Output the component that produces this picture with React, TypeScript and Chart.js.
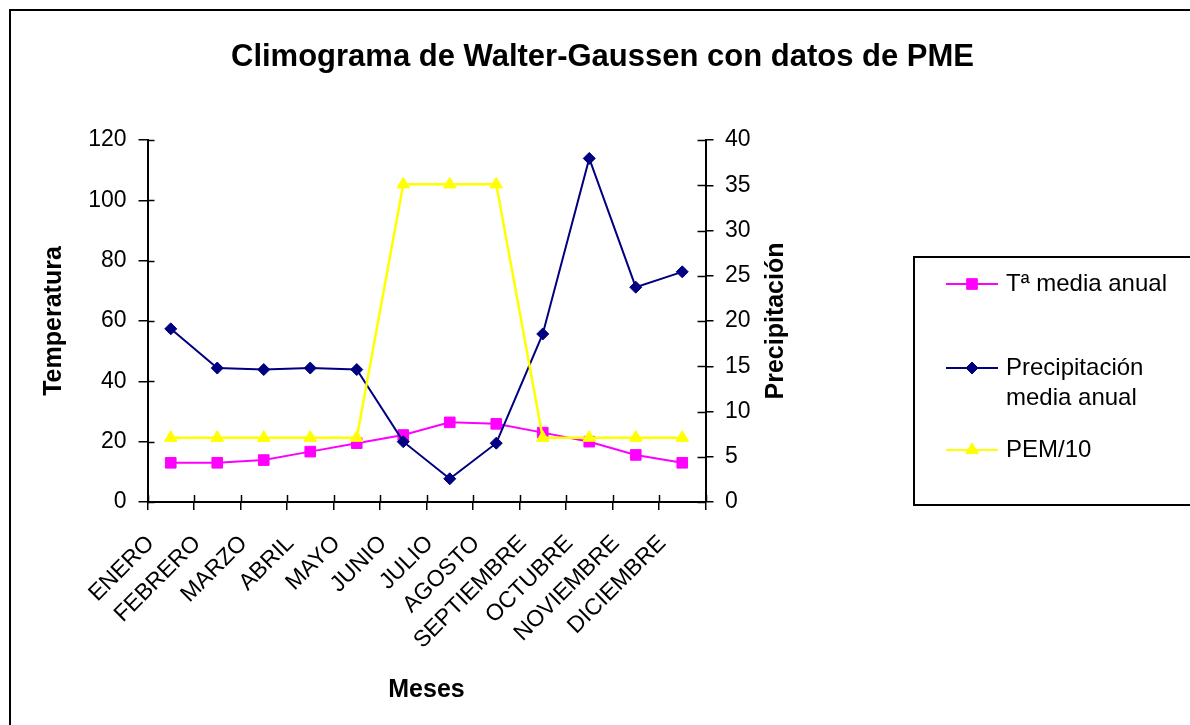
import React, { useEffect, useRef } from "react";
import { Chart, registerables } from "chart.js";

Chart.register(...registerables);

const chartTitle = "Climograma de Walter-Gaussen con datos de PME";
const xTitle = "Meses";
const yTitle = "Temperatura";
const y1Title = "Precipitación";

const months = [
  "ENERO", "FEBRERO", "MARZO", "ABRIL", "MAYO", "JUNIO",
  "JULIO", "AGOSTO", "SEPTIEMBRE", "OCTUBRE", "NOVIEMBRE", "DICIEMBRE",
];

const tempMedia = [13.0, 13.0, 13.9, 16.7, 19.5, 22.2, 26.4, 25.9, 23.0, 20.0, 15.6, 13.0];
const precipMedia = [57.4, 44.4, 43.9, 44.4, 43.9, 20.0, 7.7, 19.5, 55.7, 113.9, 71.2, 76.3];
const pem10 = [7.1, 7.1, 7.1, 7.1, 7.1, 35.1, 35.1, 35.1, 7.1, 7.1, 7.1, 7.1];

const leftMin = 0, leftMax = 120, leftStep = 20;
const rightMin = 0, rightMax = 40, rightStep = 5;

const seriesLabels = ["Tª media anual", "Precipitación media anual", "PEM/10"];
const legendLines = [["Tª media anual"], ["Precipitación", "media anual"], ["PEM/10"]];
const seriesColors = ["#FF00FF", "#000080", "#FFFF00"];
const seriesStyles = ["rect", "rectRot", "triangle"];

const FONT = "'Liberation Sans', Arial, Helvetica, sans-serif";

function drawMarker(ctx: CanvasRenderingContext2D, style: string, x: number, y: number, color: string) {
  ctx.save();
  ctx.fillStyle = color;
  ctx.strokeStyle = color;
  ctx.lineWidth = 1;
  ctx.beginPath();
  if (style === "rect") {
    ctx.rect(x - 5.3, y - 5.3, 10.6, 10.6);
  } else if (style === "rectRot") {
    const r = 6;
    ctx.moveTo(x - r, y);
    ctx.lineTo(x, y - r);
    ctx.lineTo(x + r, y);
    ctx.lineTo(x, y + r);
    ctx.closePath();
  } else {
    const r = 7.2;
    ctx.moveTo(x, y - r);
    ctx.lineTo(x + r * 0.866, y + r * 0.5);
    ctx.lineTo(x - r * 0.866, y + r * 0.5);
    ctx.closePath();
  }
  ctx.fill();
  ctx.stroke();
  ctx.restore();
}

export default function App() {
  const ref = useRef<HTMLCanvasElement>(null);

  useEffect(() => {
    const canvas = ref.current;
    if (!canvas) return;
    Chart.defaults.font.family = FONT;
    Chart.defaults.color = "#000";

    const decor = {
      id: "decor",
      beforeDraw(chart: any) {
        const { ctx, width, height } = chart;
        ctx.save();
        ctx.fillStyle = "#fff";
        ctx.fillRect(0, 0, width, height);
        ctx.strokeStyle = "#000";
        ctx.lineWidth = 2;
        ctx.strokeRect(10, 10, width + 40, height + 40);
        ctx.fillStyle = "#000";
        ctx.font = `bold 31px ${FONT}`;
        ctx.textAlign = "center";
        ctx.textBaseline = "middle";
        ctx.fillText(chartTitle, 602.5, 57);
        ctx.restore();
      },
      afterDraw(chart: any) {
        const { ctx, chartArea: ca, scales } = chart;
        ctx.save();
        ctx.strokeStyle = "#000";
        ctx.lineWidth = 1.5;
        // inner halves of the crossing tick marks
        const xs = scales.x;
        for (let i = 0; i <= months.length; i++) {
          const px = Math.round(xs.getPixelForValue(i - 0.5)) + 0.5;
          ctx.beginPath();
          ctx.moveTo(px, ca.bottom);
          ctx.lineTo(px, ca.bottom - 7);
          ctx.stroke();
        }
        scales.y.ticks.forEach((t: any) => {
          const py = Math.round(scales.y.getPixelForValue(t.value)) + 0.5;
          ctx.beginPath();
          ctx.moveTo(ca.left, py);
          ctx.lineTo(ca.left + 7, py);
          ctx.stroke();
        });
        scales.y1.ticks.forEach((t: any) => {
          const py = Math.round(scales.y1.getPixelForValue(t.value)) + 0.5;
          ctx.beginPath();
          ctx.moveTo(ca.right, py);
          ctx.lineTo(ca.right - 8, py);
          ctx.stroke();
        });

        // right axis title, reading bottom-to-top
        ctx.save();
        ctx.fillStyle = "#000";
        ctx.font = `bold 25px ${FONT}`;
        ctx.textAlign = "center";
        ctx.textBaseline = "middle";
        ctx.translate(776, (ca.top + ca.bottom) / 2);
        ctx.rotate(-Math.PI / 2);
        ctx.fillText(y1Title, 0, 0);
        ctx.restore();

        // legend
        ctx.lineWidth = 2;
        ctx.strokeStyle = "#000";
        ctx.strokeRect(914, 257, 320, 248);
        const rowsY = [284, 368, 450];
        ctx.font = `24px ${FONT}`;
        ctx.textAlign = "left";
        ctx.textBaseline = "middle";
        legendLines.forEach((lines, i) => {
          const y = rowsY[i];
          ctx.strokeStyle = seriesColors[i];
          ctx.lineWidth = 2;
          ctx.beginPath();
          ctx.moveTo(946, y);
          ctx.lineTo(998, y);
          ctx.stroke();
          drawMarker(ctx, seriesStyles[i], 972, y, seriesColors[i]);
          ctx.fillStyle = "#000";
          lines.forEach((ln, j) => ctx.fillText(ln, 1006, y + j * 30));
        });
        ctx.restore();
      },
    };

    const tickFont = { size: 23 };
    const titleFont = { size: 25, weight: "bold" as const };

    const chart = new Chart(canvas, {
      type: "line",
      data: {
        labels: months,
        datasets: [
          {
            label: seriesLabels[0],
            data: tempMedia,
            yAxisID: "y",
            borderColor: seriesColors[0],
            backgroundColor: seriesColors[0],
            pointBackgroundColor: seriesColors[0],
            pointBorderColor: seriesColors[0],
            pointStyle: "rect",
            pointRadius: 7.5,
            pointBorderWidth: 1,
            borderWidth: 2,
            tension: 0,
            order: 3,
          },
          {
            label: seriesLabels[1],
            data: precipMedia,
            yAxisID: "y",
            borderColor: seriesColors[1],
            backgroundColor: seriesColors[1],
            pointBackgroundColor: seriesColors[1],
            pointBorderColor: seriesColors[1],
            pointStyle: "rectRot",
            pointRadius: 6,
            pointBorderWidth: 1,
            borderWidth: 2,
            tension: 0,
            order: 2,
          },
          {
            label: seriesLabels[2],
            data: pem10,
            yAxisID: "y1",
            borderColor: seriesColors[2],
            backgroundColor: seriesColors[2],
            pointBackgroundColor: seriesColors[2],
            pointBorderColor: seriesColors[2],
            pointStyle: "triangle",
            pointRadius: 7.2,
            pointBorderWidth: 1,
            borderWidth: 2.5,
            tension: 0,
            order: 1,
          },
        ],
      },
      options: {
        responsive: false,
        animation: false,
        devicePixelRatio: 1,
        layout: { padding: { top: 140, left: 0, right: 0, bottom: 0 } },
        plugins: {
          legend: { display: false },
          title: { display: false },
          tooltip: { enabled: false },
        },
        scales: {
          x: {
            type: "category",
            offset: true,
            grid: { offset: true, drawOnChartArea: false, color: "#000", lineWidth: 1.5, tickLength: 8 },
            border: { color: "#000", width: 2 },
            ticks: {
              autoSkip: false,
              minRotation: 45,
              maxRotation: 45,
              padding: 20,
              labelOffset: -20,
              font: tickFont,
              color: "#000",
            },
            title: {
              display: true,
              text: xTitle,
              font: titleFont,
              color: "#000",
              padding: { top: 0, bottom: 20 },
            },
            afterFit: (s: any) => {
              s.height = 223;
            },
          },
          y: {
            position: "left",
            min: leftMin,
            max: leftMax,
            grid: { drawOnChartArea: false, color: "#000", lineWidth: 1.5, tickLength: 9 },
            border: { color: "#000", width: 2 },
            ticks: { stepSize: leftStep, padding: 12, font: tickFont, color: "#000" },
            title: {
              display: true,
              text: yTitle,
              font: titleFont,
              color: "#000",
              padding: { top: 39, bottom: 0 },
            },
            afterFit: (s: any) => {
              s.width = 147.5;
            },
          },
          y1: {
            position: "right",
            min: rightMin,
            max: rightMax,
            grid: { drawOnChartArea: false, color: "#000", lineWidth: 1.5, tickLength: 8 },
            border: { color: "#000", width: 2 },
            ticks: { stepSize: rightStep, padding: 11.5, font: tickFont, color: "#000" },
            title: { display: false },
            afterFit: (s: any) => {
              s.width = 484.5;
            },
          },
        },
      } as any,
      plugins: [decor],
    });

    return () => chart.destroy();
  }, []);

  return (
    <div style={{ position: "absolute", left: 0, top: 0, width: 1190, height: 725, background: "#fff" }}>
      <canvas ref={ref} width={1190} height={725} style={{ display: "block" }} />
    </div>
  );
}
